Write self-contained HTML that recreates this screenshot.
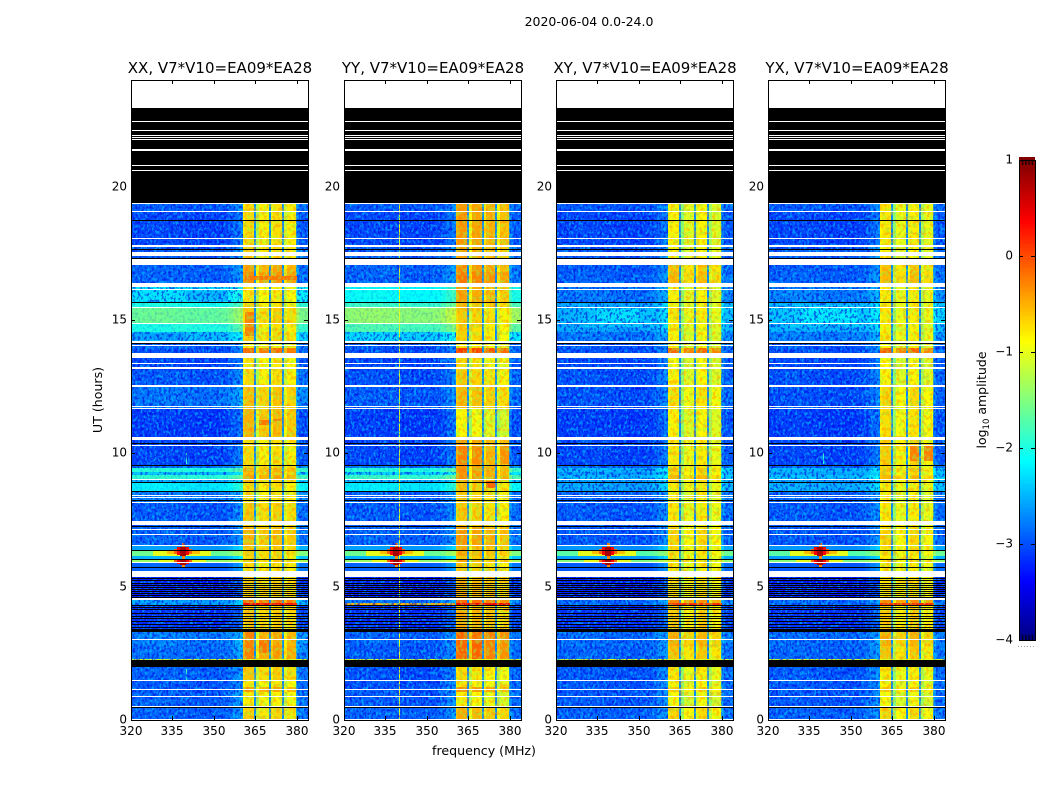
<!DOCTYPE html>
<html lang="en">
<head>
<meta charset="utf-8">
<title>2020-06-04 amplitude spectrogram</title>
<style>
html,body{margin:0;padding:0;background:#fff;}
#figure{display:block;width:1050px;height:800px;}
text{font-family:"DejaVu Sans","Liberation Sans",sans-serif;fill:#000;}
</style>
</head>
<body>
<svg id="figure" xmlns="http://www.w3.org/2000/svg" width="1050" height="800" viewBox="0 0 1050 800">
  <defs>
    <filter id="speck-light" x="0" y="0" width="100%" height="100%" color-interpolation-filters="sRGB">
      <feTurbulence type="fractalNoise" baseFrequency="0.42 0.32" numOctaves="2" seed="3"/>
      <feColorMatrix type="matrix" values="0 0 0 0 0  0 0 0 0 .8  0 0 0 0 1  8 0 0 0 -4.1"/>
    </filter>
    <filter id="speck-dark" x="0" y="0" width="100%" height="100%" color-interpolation-filters="sRGB">
      <feTurbulence type="fractalNoise" baseFrequency="0.42 0.32" numOctaves="2" seed="11"/>
      <feColorMatrix type="matrix" values="0 0 0 0 0  0 0 0 0 0  0 0 0 0 .85  0 8 0 0 -4.1"/>
    </filter>
    <filter id="speck-orange" x="0" y="0" width="100%" height="100%" color-interpolation-filters="sRGB">
      <feTurbulence type="fractalNoise" baseFrequency="0.3 0.25" numOctaves="2" seed="5"/>
      <feColorMatrix type="matrix" values="0 0 0 0 1  0 0 0 0 .5  0 0 0 0 0  7 0 0 0 -3.5"/>
    </filter>
    <filter id="speck-green" x="0" y="0" width="100%" height="100%" color-interpolation-filters="sRGB">
      <feTurbulence type="fractalNoise" baseFrequency="0.3 0.25" numOctaves="2" seed="17"/>
      <feColorMatrix type="matrix" values="0 0 0 0 .55  0 0 0 0 1  0 0 0 0 .3  0 7 0 0 -3.5"/>
    </filter>
  </defs>
  <text x="589" y="26" font-size="12.5" text-anchor="middle">2020-06-04 0.0-24.0</text>
  <text x="484" y="755" font-size="12.6" text-anchor="middle">frequency (MHz)</text>
  <text x="102" y="400" font-size="12.6" text-anchor="middle" transform="rotate(-90 102 400)">UT (hours)</text>
  <text x="986" y="400" font-size="12.5" text-anchor="middle" transform="rotate(-90 986 400)">log<tspan font-size="8.5" dy="3">10</tspan><tspan dy="-3"> amplitude</tspan></text>
  <g id="panels"></g>
  <g id="colorbar"></g>
</svg>
<script>
// ---- categories and tick labels ----
const panelTitles = ["XX, V7*V10=EA09*EA28", "YY, V7*V10=EA09*EA28", "XY, V7*V10=EA09*EA28", "YX, V7*V10=EA09*EA28"];
const freqTicks = [320, 335, 350, 365, 380];
const utTicks = [0, 5, 10, 15, 20];
const colorbarTicks = [1, 0, -1, -2, -3, -4];

// ---- time bands (UT hours, top to bottom); one value per band below ----
const bandEdgesUT = [19.39,19.05,17.81,17.06,16.8,16.39,15.68,15.45,14.89,14.55,14.21,13.95,13.76,13.13,12.53,11.7,10.5,9.56,9.45,9.3,9.19,9.04,8.89,8.59,8.14,7.28,6.56,6.34,6.15,6.04,5.89,5.59,5.36,4.5,4.31,3.3,2.78,2.25,1.99,1.49,1.24,1.05,.49,0];

// log10 amplitude of the quiet band (320-360 MHz)
const lowXX = [-2.95,-3.05,-2.95,-2.9,-2.9,-2.25,-2.0,-1.6,-1.95,-2.4,-2.9,-3.0,-3.05,-2.95,-2.8,-3.1,-3.05,-2.8,-1.95,-2.4,-1.9,-2.5,-2.2,-2.75,-2.95,-2.9,-2.6,-1.6,-2.5,-1.4,-2.9,-2.9,-3.25,-2.6,-3.15,-2.75,-2.85,-2.9,-2.9,-2.95,-2.95,-2.9,-2.9];
const lowYY = [-2.95,-3.05,-2.95,-2.9,-2.9,-2.1,-1.85,-1.4,-1.75,-2.3,-2.95,-3.0,-3.05,-3.0,-2.95,-3.1,-3.05,-2.8,-1.95,-2.3,-1.85,-2.5,-2.2,-2.9,-2.95,-2.9,-2.6,-1.6,-2.5,-1.4,-2.9,-2.9,-3.25,-2.8,-3.15,-2.9,-2.95,-2.9,-3.0,-3.0,-2.95,-2.95,-2.9];
const lowXY = [-2.95,-3.05,-2.95,-2.95,-2.9,-2.8,-2.55,-2.5,-2.55,-2.8,-2.95,-3.0,-3.05,-3.0,-3.0,-3.1,-3.05,-2.9,-2.45,-2.6,-2.45,-2.6,-2.55,-2.9,-2.95,-2.95,-2.65,-1.7,-2.6,-1.5,-2.95,-2.95,-3.25,-2.85,-3.15,-2.85,-2.9,-2.9,-2.95,-2.95,-2.95,-2.95,-2.9];
const lowYX = [-2.95,-3.05,-2.95,-2.95,-2.9,-2.75,-2.5,-2.4,-2.5,-2.75,-2.95,-3.0,-3.05,-3.0,-3.0,-3.1,-3.05,-2.9,-2.45,-2.55,-2.4,-2.6,-2.5,-2.9,-2.95,-2.95,-2.65,-1.7,-2.6,-1.5,-2.95,-2.95,-3.25,-2.85,-3.15,-2.85,-2.9,-2.9,-2.95,-2.95,-2.95,-2.95,-2.9];

// log10 amplitude of the bright band (360-380 MHz)
const hiXX = [-.7,-.7,-.65,-.4,-.3,-.75,-.7,-.6,-.7,-.65,-.8,-.1,-.75,-.7,-.55,-.5,-.7,-.6,-.45,-.55,-.4,-.6,-.7,-.7,-.6,-.5,-.6,-.6,-.7,-.6,-.7,-.7,-.6,-.1,-.6,-.4,-.35,-.5,-.6,-.75,-.4,-.8,-.65];
const hiYY = [-.4,-.4,-.45,-.35,-.25,-.45,-.55,-.65,-.7,-.7,-.8,.05,-.75,-.65,-.55,-.9,-.4,-.4,-.35,-.4,-.35,-.5,-.6,-.65,-.65,-.4,-.5,-.5,-.6,-.5,-.65,-.7,-.5,-.15,-.5,-.15,-.15,-.5,-.75,-.8,-.35,-.85,-.5];
const hiXY = [-.8,-.8,-.8,-.55,-.5,-.8,-.8,-.75,-.8,-.8,-.85,-.05,-.85,-.8,-.7,-.8,-.75,-.7,-.55,-.65,-.5,-.65,-.75,-.8,-.75,-.65,-.7,-.7,-.75,-.7,-.75,-.75,-.7,-.25,-.6,-.45,-.55,-.6,-.75,-.8,-.6,-.85,-.65];
const hiYX = [-.75,-.75,-.8,-.55,-.5,-.75,-.75,-.75,-.8,-.75,-.85,-.05,-.85,-.8,-.65,-.7,-.6,-.7,-.55,-.65,-.5,-.65,-.75,-.8,-.75,-.65,-.7,-.7,-.75,-.7,-.75,-.75,-.7,-.25,-.6,-.45,-.55,-.6,-.75,-.8,-.6,-.85,-.65];

// ---- frequency columns (MHz) ----
const freqEdges = [320,324,328,332,336,340,344,348,352,355,357,359,360.4,361.2,364.6,365.3,366.4,369.8,370.5,371.5,374.7,375.4,376.5,379.8,380.6,384];
// column group: "L" quiet band, 0-3 sub-band of the bright band, "N" notch between sub-bands
const columnGroup = ["L","L","L","L","L","L","L","L","L","L","L","L",0,0,"N",1,1,"N",2,2,"N",3,3,"L","L"];
const columnOffset = [0,.02,.03,.02,0,-.02,-.03,-.03,0,.08,.2,.3,-.1,0,0,-.45,0,0,-.25,0,0,-.3,0,.3,.1];
const notchLevel = -2.7;
const subBandXX = [0,-.12,-.03,-.12];
const subBandYY = [.05,-.02,-.1,-.18];
const subBandXY = [-.02,-.22,-.05,-.22];
const subBandYX = [-.02,-.22,-.05,-.22];

// ---- localised features: [panel (-1 = all), f0, f1, utTop, utBottom, log10 amplitude] ----
const featurePatches = [
  [0,340,355,16.1,15.7,-2.45],[0,320,335,14.89,14.55,-2.0],[0,320,340,14.5,14.25,-2.6],
  [2,330,355,15.5,14.75,-2.4],[2,335,350,15.4,14.85,-2.25],[3,328,356,15.55,14.75,-2.35],[3,332,352,15.45,14.85,-2.2],
  [1,339.8,340.1,19.39,0,-1.0],[0,339.8,340.1,10,9.6,-1.8],[0,339.8,340.1,1.9,1.5,-1.8],[3,339.8,340.1,10,9.6,-1.9],
  [0,361.2,364.6,15.3,14.4,-.25],[0,361.2,380,16.66,16.5,-.2],[0,366.4,369.8,11.25,11.05,-.2],[0,371.5,374.7,11.3,11.2,-.2],
  [0,361.2,364.6,3.3,2.3,-.25],[0,366.4,369.8,3,2.5,-.2],
  [3,371.5,374.7,10.3,9.7,-.25],[3,376.5,379.8,10.3,9.7,-.25],
  [1,361.2,364.6,10.3,9.6,-.25],[1,366.4,369.8,10.3,9.6,-.3],[1,376.5,379.8,10.3,9.6,-.35],[1,371.5,374.7,8.95,8.7,-.1],
  [1,361.2,364.6,3.05,2.3,-.1],[1,366.4,369.8,3.05,2.3,-.1],
  [1,320,360,4.37,4.31,-.5],[1,360.4,380,4.37,4.31,.4],[0,360.4,380,4.37,4.31,.35],[2,360.4,380,4.37,4.31,.15],[3,360.4,380,4.37,4.31,.15],
  [-1,320,384,2.29,2.25,-1.0],
  [-1,338.5,339.5,6.62,6.0,-.2],[-1,328,349,6.34,6.15,-1.0],[-1,333,345,6.34,6.22,-.55],[-1,335.5,342,6.42,6.22,-.1],[-1,336.8,340.8,6.48,6.2,.4],[-1,337.6,340,6.5,6.16,.8],
  [-1,338.5,339.5,6.1,5.7,-.3],[-1,330,347,6.04,5.89,-1.0],[-1,335.5,342,6.03,5.88,-.1],[-1,336.8,340.8,6.04,5.85,.4],[-1,337.6,340,6.03,5.82,.8]
];

// ---- flagged (black) and missing (white) time ranges, UT hours ----
const flaggedSpans = [[22.95,19.39],[3.375,3.3],[2.25,1.99]];
const flaggedLines = [18.74,17.65,17.32,15.67,14.13,10.38,9.55,8.92,8.58,8.24,7.27,6.37,6.03,5.73,5.325,5.25,5.156,5.0625,4.99,4.91,4.84,4.76,4.69,4.61,4.33,4.24,4.15,4.02,3.9,3.81,3.71,3.6,3.5,3.41,.48];
const blankSpans = [[24,22.95],[17.81,17.74],[17.55,17.4],[17.27,17.05],[16.39,16.23],[13.75,13.59],[13.25,13.15],[10.62,10.5],[7.46,7.31],[5.6,5.37],[4.59,4.5]];
const blankLines = [22.48,22.11,21.94,21.86,21.77,21.43,21.36,20.83,20.61,19.37,19.07,18.09,16.16,15.49,14.87,14.23,14.18,14.06,13.37,12.58,12.53,11.79,11.7,10.31,9.05,8.44,8.35,8.19,7.16,6.99,6.56,5.93,3.03,1.49,1.15,.89,.51,.05];
const lineThickness = 0.0375;

// ---- layout ----
const panelLefts = [131, 344, 556, 768];
const panelWidth = 177, plotTop = 80, plotBottom = 720;
const lowLevels = [lowXX, lowYY, lowXY, lowYX];
const hiLevels = [hiXX, hiYY, hiXY, hiYX];
const subBands = [subBandXX, subBandYY, subBandXY, subBandYX];

const NS = "http://www.w3.org/2000/svg";
function make(tag, parent, attrs) {
  const el = document.createElementNS(NS, tag);
  for (const k in attrs) el.setAttribute(k, attrs[k]);
  parent.appendChild(el);
  return el;
}
function clamp(v) { return Math.max(0, Math.min(1, v)); }
function jet(v) {
  const t = clamp((v + 4) / 5);
  const r = clamp(1.5 - Math.abs(4 * t - 3));
  const g = clamp(1.5 - Math.abs(4 * t - 2));
  const b = clamp(1.5 - Math.abs(4 * t - 1));
  return "rgb(" + Math.round(r * 255) + "," + Math.round(g * 255) + "," + Math.round(b * 255) + ")";
}
function yScale(ut) { return Math.round(plotBottom - ut * (plotBottom - plotTop) / 24); }
function xScale(panel, f) { return Math.round(panelLefts[panel] + (f - 320) * panelWidth / 64); }
function cellValue(panel, band, col) {
  const group = columnGroup[col];
  if (group === "N") return notchLevel;
  if (group === "L") return lowLevels[panel][band] + columnOffset[col];
  return hiLevels[panel][band] + subBands[panel][group] + columnOffset[col];
}

const panelsRoot = document.getElementById("panels");
panelTitles.forEach(function (title, p) {
  const g = make("g", panelsRoot, {});
  
  
  const heat = make("g", g, {"shape-rendering": "crispEdges"});
  
  

  for (let b = 0; b < bandEdgesUT.length - 1; b++) {
    for (let c = 0; c < freqEdges.length - 1; c++) {
      const x0 = xScale(p, freqEdges[c]), x1 = xScale(p, freqEdges[c + 1]);
      const y0 = yScale(bandEdgesUT[b]), y1 = yScale(bandEdgesUT[b + 1]);
      const cell = make("rect", heat, {x: x0, y: y0, width: Math.max(1, x1 - x0), height: Math.max(1, y1 - y0), fill: jet(cellValue(p, b, c))});
      
      
    }
  }
  // discrete features sit under the texture so they blend with the noise
  const overlay = make("g", g, {"shape-rendering": "crispEdges"});
  
  
  featurePatches.forEach(function (f) {
    if (f[0] !== -1 && f[0] !== p) return;
    const x0 = xScale(p, f[1]), x1 = xScale(p, f[2]);
    const y0 = yScale(f[3]), y1 = yScale(f[4]);
    const patch = make("rect", overlay, {x: x0, y: y0, width: Math.max(1, x1 - x0), height: Math.max(1, y1 - y0), fill: jet(f[5])});
    
    
  });
  // fine speckle on the quiet band; bright bands stay nearly smooth
  for (let b = 0; b < bandEdgesUT.length - 1; b++) {
    if (bandEdgesUT[b] <= 6.56 && bandEdgesUT[b] > 5.59) continue;
    const dark = lowLevels[p][b] < -2.2;
    [[320, 360.4], [380, 384]].forEach(function (range) {
      ["speck-light", "speck-dark"].forEach(function (id) {
        const sp = make("rect", g, {x: xScale(p, range[0]), y: yScale(bandEdgesUT[b]), width: xScale(p, range[1]) - xScale(p, range[0]), height: Math.max(1, yScale(bandEdgesUT[b + 1]) - yScale(bandEdgesUT[b])), filter: "url(#" + id + ")", opacity: dark ? 0.55 : 0.12});
        
        
      });
    });
  }
  ["speck-orange", "speck-green"].forEach(function (id) {
    const sp = make("rect", g, {x: xScale(p, 360.4), y: yScale(19.39), width: xScale(p, 380) - xScale(p, 360.4), height: plotBottom - yScale(19.39), filter: "url(#" + id + ")", opacity: 0.4});
    
    
  });

  function stripe(top, bottom, colour, name) {
    const s = make("rect", g, {x: panelLefts[p], y: yScale(top), width: panelWidth, height: Math.max(1, yScale(bottom) - yScale(top)), fill: colour, "shape-rendering": "crispEdges"});
    
    
  }
  flaggedSpans.forEach(function (s) { stripe(s[0], s[1], "#000", "flagged-span"); });
  flaggedLines.forEach(function (u) { stripe(u, u - lineThickness, "#000", "flagged-line"); });
  blankSpans.forEach(function (s) { stripe(s[0], s[1], "#fff", "missing-span"); });
  blankLines.forEach(function (u) { stripe(u, u - lineThickness, "#fff", "missing-line"); });

  const frame = make("rect", g, {x: panelLefts[p] + .5, y: plotTop + .5, width: panelWidth, height: plotBottom - plotTop, fill: "none", stroke: "#000", "stroke-width": 1});
  
  

  const t = make("text", g, {x: panelLefts[p] + panelWidth / 2 + .5, y: 73, "font-size": 15, "text-anchor": "middle"});
  t.textContent = title;
  
  

  freqTicks.forEach(function (f) {
    const x = xScale(p, f) + .5;
    [[plotTop, plotTop + 4], [plotBottom, plotBottom - 4]].forEach(function (pair) {
      const tick = make("line", g, {x1: x, x2: x, y1: pair[0], y2: pair[1], stroke: "#000"});
      
      
    });
    const label = make("text", g, {x: x - .5, y: 735, "font-size": 12, "text-anchor": "middle"});
    label.textContent = String(f);
    
    
  });
  utTicks.forEach(function (u) {
    const y = yScale(u) + .5;
    const left = panelLefts[p];
    [[left, left + 4], [left + panelWidth, left + panelWidth - 4]].forEach(function (pair) {
      const tick = make("line", g, {x1: pair[0], x2: pair[1], y1: y, y2: y, stroke: "#000"});
      
      
    });
    const label = make("text", g, {x: left - 4, y: y + 3, "font-size": 12, "text-anchor": "end"});
    label.textContent = String(u);
    
    
  });
});

// ---- colorbar ----
const barRoot = document.getElementById("colorbar");
const barLeft = 1019, barWidth = 16, barTop = 160, barBottom = 640;
function barY(v) { return barBottom - (v + 4) * (barBottom - barTop) / 5; }
for (let v = -4; v < 1; v += 0.025) {
  const seg = make("rect", barRoot, {x: barLeft, y: Math.floor(barY(v + 0.025)), width: barWidth, height: Math.ceil(barY(v) - barY(v + 0.025)) + 1, fill: jet(v + 0.0125), "shape-rendering": "crispEdges"});
  
  
}
const barFrame = make("rect", barRoot, {x: barLeft + .5, y: barTop + .5, width: barWidth, height: barBottom - barTop, fill: "none", stroke: "#000"});


colorbarTicks.forEach(function (v) {
  const y = Math.round(barY(v)) + .5;
  [[barLeft, barLeft + 4], [barLeft + barWidth, barLeft + barWidth - 4]].forEach(function (pair) {
    const tick = make("line", barRoot, {x1: pair[0], x2: pair[1], y1: y, y2: y, stroke: "#000"});
    
    
  });
  const label = make("text", barRoot, {x: barLeft - 6, y: y + 3, "font-size": 12, "text-anchor": "end"});
  label.textContent = v < 0 ? "\u2212" + Math.abs(v) : String(v);
  
  
});
for (let i = 1; i < 5; i++) {
  const x = barLeft + i * 3.2 + .5;
  [[barTop, barTop + 5], [barBottom, barBottom - 5]].forEach(function (pair) {
    const minor = make("line", barRoot, {x1: x, x2: x, y1: pair[0], y2: pair[1], stroke: "#000"});
    
    
  });
}
const dots = make("line", barRoot, {x1: 1018, x2: 1035, y1: 646.5, y2: 646.5, stroke: "#999", "stroke-dasharray": "1 2"});


</script>
</body>
</html>
